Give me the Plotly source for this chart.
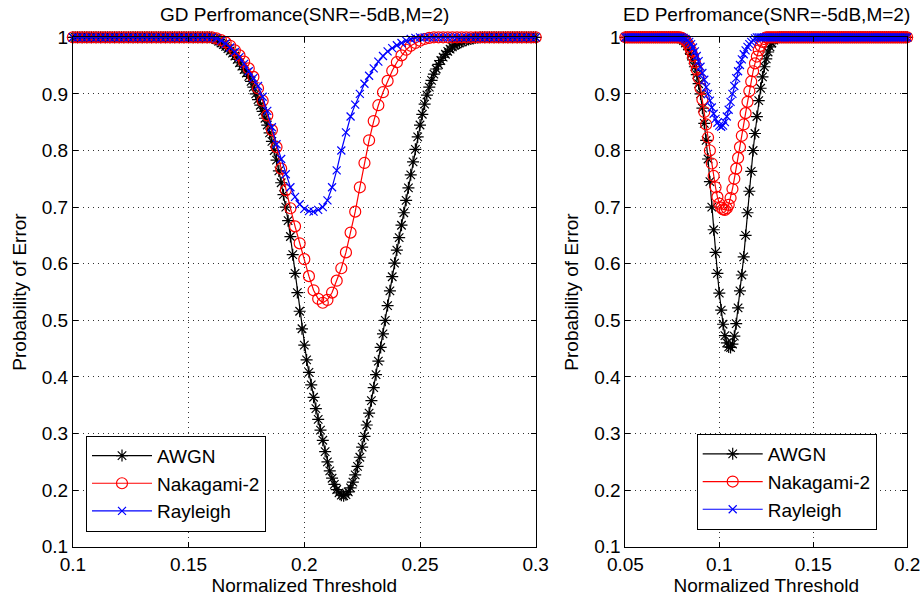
import numpy as np
import plotly.graph_objects as go

# ---------------- data ----------------
series_names = ["AWGN", "Nakagami-2", "Rayleigh"]

# GD (left panel) threshold grids
gd_x_fine = np.round(np.arange(0.100, 0.3001, 0.001), 3)     # 201 points (AWGN)
gd_x_coarse = np.round(np.arange(0.100, 0.3001, 0.002), 3)   # 101 points (Nakagami-2, Rayleigh)

# AWGN GD: 1.0 for 0.100..0.159, dip 0.160..0.276, 1.0 for 0.277..0.300
gd_awgn_dip = [
    0.999, 0.998, 0.996, 0.993, 0.990, 0.987, 0.984, 0.980, 0.976, 0.972,
    0.967, 0.961, 0.955, 0.949, 0.943, 0.937, 0.931, 0.922, 0.912, 0.900,
    0.890, 0.880, 0.869, 0.857, 0.845, 0.831, 0.816, 0.800, 0.783, 0.764,
    0.743, 0.722, 0.700, 0.676, 0.648, 0.616, 0.583, 0.549, 0.516, 0.485,
    0.456, 0.430, 0.408, 0.386, 0.364, 0.344, 0.325, 0.306, 0.288, 0.268,
    0.250, 0.234, 0.221, 0.210, 0.201, 0.195, 0.191, 0.190, 0.192, 0.197,
    0.204, 0.214, 0.227, 0.242, 0.258, 0.276, 0.295, 0.315, 0.336, 0.358,
    0.381, 0.404, 0.428, 0.452, 0.476, 0.500, 0.526, 0.552, 0.577, 0.601,
    0.624, 0.646, 0.668, 0.690, 0.712, 0.734, 0.757, 0.780, 0.802, 0.824,
    0.845, 0.864, 0.882, 0.898, 0.912, 0.924, 0.935, 0.944, 0.952, 0.959,
    0.965, 0.970, 0.975, 0.979, 0.983, 0.986, 0.988, 0.990, 0.992, 0.994,
    0.995, 0.996, 0.997, 0.998, 0.999, 0.999, 1.000,
]
gd_awgn = [1.0] * 60 + gd_awgn_dip + [1.0] * 24

# Nakagami-2 GD: 1.0 for 0.100..0.158, dip 0.160..0.256, 1.0 for 0.258..0.300
gd_naka_dip = [
    1.000, 0.998, 0.995, 0.991, 0.985, 0.977, 0.968, 0.957, 0.945, 0.930,
    0.910, 0.888, 0.862, 0.836, 0.806, 0.768, 0.730, 0.698, 0.666, 0.636,
    0.608, 0.578, 0.553, 0.538, 0.531, 0.536, 0.549, 0.570, 0.592, 0.620,
    0.655, 0.692, 0.735, 0.778, 0.818, 0.852, 0.880, 0.903, 0.923, 0.941,
    0.956, 0.968, 0.978, 0.985, 0.990, 0.994, 0.997, 0.999, 1.000,
]
gd_naka = [1.0] * 30 + gd_naka_dip + [1.0] * 22

# Rayleigh GD: 1.0 for 0.100..0.158, dip 0.160..0.250, 1.0 for 0.252..0.300
gd_rayl_dip = [
    1.000, 0.998, 0.994, 0.989, 0.982, 0.974, 0.965, 0.953, 0.940, 0.928,
    0.914, 0.895, 0.870, 0.841, 0.811, 0.785, 0.758, 0.735, 0.718, 0.705,
    0.697, 0.693, 0.692, 0.695, 0.700, 0.712, 0.735, 0.765, 0.800, 0.832,
    0.860, 0.881, 0.900, 0.918, 0.932, 0.945, 0.957, 0.967, 0.975, 0.981,
    0.986, 0.990, 0.994, 0.997, 0.999, 1.000,
]
gd_rayl = [1.0] * 30 + gd_rayl_dip + [1.0] * 25

# ED (right panel) threshold grid
ed_x = np.round(np.arange(0.050, 0.2001, 0.001), 3)   # 151 points

# AWGN ED: 1.0 for 0.050..0.077, dip 0.078..0.132, 1.0 for 0.133..0.200
ed_awgn_dip = [
    1.000, 0.999, 0.997, 0.994, 0.990, 0.985, 0.978, 0.970, 0.960, 0.948,
    0.934, 0.918, 0.900, 0.875, 0.848, 0.818, 0.785, 0.745, 0.700, 0.660,
    0.620, 0.583, 0.548, 0.518, 0.493, 0.473, 0.460, 0.453, 0.452, 0.458,
    0.472, 0.494, 0.522, 0.552, 0.580, 0.612, 0.650, 0.690, 0.728, 0.763,
    0.800, 0.830, 0.860, 0.888, 0.910, 0.930, 0.948, 0.962, 0.974, 0.983,
    0.990, 0.995, 0.998, 0.999, 1.000,
]
ed_awgn = [1.0] * 28 + ed_awgn_dip + [1.0] * 68

# Nakagami-2 ED: 1.0 for 0.050..0.078, dip 0.079..0.125, 1.0 for 0.126..0.200
ed_naka_dip = [
    1.000, 0.999, 0.997, 0.994, 0.990, 0.984, 0.976, 0.967, 0.956, 0.943,
    0.928, 0.910, 0.890, 0.868, 0.846, 0.823, 0.800, 0.777, 0.755, 0.735,
    0.718, 0.706, 0.699, 0.696, 0.695, 0.698, 0.704, 0.716, 0.732, 0.750,
    0.768, 0.787, 0.806, 0.826, 0.846, 0.866, 0.886, 0.905, 0.922, 0.940,
    0.954, 0.966, 0.977, 0.985, 0.992, 0.997, 1.000,
]
ed_naka = [1.0] * 29 + ed_naka_dip + [1.0] * 75

# Rayleigh ED: 1.0 for 0.050..0.079, dip 0.080..0.120, 1.0 for 0.121..0.200
ed_rayl_dip = [
    1.000, 0.999, 0.997, 0.995, 0.992, 0.988, 0.982, 0.975, 0.967, 0.958,
    0.948, 0.937, 0.925, 0.912, 0.900, 0.888, 0.876, 0.865, 0.856, 0.849,
    0.844, 0.842, 0.844, 0.850, 0.860, 0.872, 0.886, 0.900, 0.914, 0.928,
    0.940, 0.951, 0.961, 0.970, 0.977, 0.983, 0.988, 0.992, 0.995, 0.998,
    1.000,
]
ed_rayl = [1.0] * 30 + ed_rayl_dip + [1.0] * 80

assert len(gd_awgn) == len(gd_x_fine)
assert len(gd_naka) == len(gd_x_coarse) and len(gd_rayl) == len(gd_x_coarse)
assert len(ed_awgn) == len(ed_x) and len(ed_naka) == len(ed_x) and len(ed_rayl) == len(ed_x)

titles = ["GD Perfromance(SNR=-5dB,M=2)", "ED Perfromance(SNR=-5dB,M=2)"]
x_label = "Normalized Threshold"
y_label = "Probability of Error"

gd_xticks = [0.1, 0.15, 0.2, 0.25, 0.3]
gd_xticktext = ["0.1", "0.15", "0.2", "0.25", "0.3"]
ed_xticks = [0.05, 0.1, 0.15, 0.2]
ed_xticktext = ["0.05", "0.1", "0.15", "0.2"]
yticks = [0.1, 0.2, 0.3, 0.4, 0.5, 0.6, 0.7, 0.8, 0.9, 1.0]
yticktext = ["0.1", "0.2", "0.3", "0.4", "0.5", "0.6", "0.7", "0.8", "0.9", "1"]

# ---------------- styling ----------------
FONT = "Liberation Sans, Arial, Helvetica, sans-serif"
FS = 19
colors = ["#000000", "#ff0000", "#0000ff"]
symbols = ["asterisk-open", "circle-open", "x-thin-open"]
sizes = [10, 11, 8]

fig = go.Figure()

def add(x, y, k, xa, ya, leg):
    fig.add_trace(go.Scatter(
        x=x, y=y, name=series_names[k], mode="lines+markers",
        line=dict(color=colors[k], width=1.2),
        marker=dict(symbol=symbols[k], size=sizes[k], color=colors[k],
                    line=dict(color=colors[k], width=1.2)),
        xaxis=xa, yaxis=ya, legend=leg, cliponaxis=False,
    ))

add(gd_x_fine, gd_awgn, 0, "x", "y", "legend")
add(gd_x_coarse, gd_naka, 1, "x", "y", "legend")
add(gd_x_coarse, gd_rayl, 2, "x", "y", "legend")
add(ed_x, ed_awgn, 0, "x2", "y2", "legend2")
add(ed_x, ed_naka, 1, "x2", "y2", "legend2")
add(ed_x, ed_rayl, 2, "x2", "y2", "legend2")

W, H = 920, 602
left_dom = [72.9 / W, 535.7 / W]
right_dom = [625.4 / W, 907.1 / W]
y_dom = [1 - 546.7 / H, 1 - 37.3 / H]

axis_common = dict(
    showline=True, linecolor="black", linewidth=1, mirror="ticks",
    ticks="inside", ticklen=5, tickwidth=1, tickcolor="black",
    showgrid=True, gridcolor="#333333", gridwidth=1, griddash="1px,4px",
    zeroline=False, automargin=False, tickmode="array",
    ticklabeloverflow="allow",
    tickfont=dict(family=FONT, size=FS, color="black"),
)

fig.update_layout(
    width=W, height=H, template="none",
    margin=dict(l=0, r=0, t=0, b=0),
    paper_bgcolor="white", plot_bgcolor="white",
    font=dict(family=FONT, size=FS, color="black"),
    xaxis=dict(domain=left_dom, range=[0.1, 0.3], anchor="y",
               tickvals=gd_xticks, ticktext=gd_xticktext,
               title=dict(text=x_label, font=dict(size=FS), standoff=5), **axis_common),
    yaxis=dict(domain=y_dom, range=[0.1, 1.0], anchor="x",
               tickvals=yticks, ticktext=yticktext,
               title=dict(text=y_label, font=dict(size=FS), standoff=10), **axis_common),
    xaxis2=dict(domain=right_dom, range=[0.05, 0.2], anchor="y2",
                tickvals=ed_xticks, ticktext=ed_xticktext,
                title=dict(text=x_label, font=dict(size=FS), standoff=5), **axis_common),
    yaxis2=dict(domain=y_dom, range=[0.1, 1.0], anchor="x2",
                tickvals=yticks, ticktext=yticktext,
                title=dict(text=y_label, font=dict(size=FS), standoff=10), **axis_common),
    legend=dict(x=86 / W, y=1 - 531.7 / H, xanchor="left", yanchor="bottom",
                bordercolor="black", borderwidth=1, bgcolor="white",
                font=dict(family=FONT, size=FS, color="black"), itemwidth=60),
    legend2=dict(x=696.7 / W, y=1 - 530 / H, xanchor="left", yanchor="bottom",
                 bordercolor="black", borderwidth=1, bgcolor="white",
                 font=dict(family=FONT, size=FS, color="black"), itemwidth=60),
    showlegend=True,
)

for dom, t in zip([left_dom, right_dom], titles):
    fig.add_annotation(text=t, x=(dom[0] + dom[1]) / 2, y=1 - 15 / H,
                       xref="paper", yref="paper", xanchor="center", yanchor="middle",
                       showarrow=False, font=dict(family=FONT, size=FS, color="black"))

fig.write_html("out.html")
